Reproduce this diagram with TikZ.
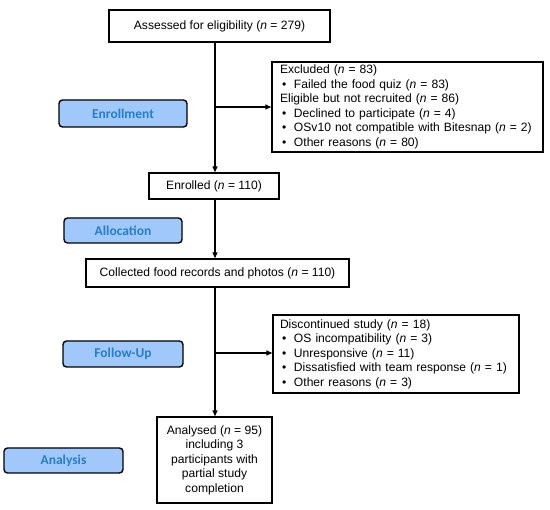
\documentclass[tikz,border=0pt]{standalone}
\usepackage{fontspec}
\setmainfont{Liberation Sans}
\newfontfamily\tabfont{Carlito}
\usetikzlibrary{arrows.meta}
\definecolor{tabfill}{RGB}{160,200,250}
\definecolor{tabtext}{RGB}{40,125,200}
\newcommand\bul{\hspace*{2pt}\makebox[12pt][l]{\textbullet}}
\begin{document}
\begin{tikzpicture}[x=1pt,y=-1pt,
  box/.style={draw,line width=1.4pt,inner sep=0pt,font=\fontsize{12.1}{14.5}\selectfont},
  tab/.style={draw,line width=1.4pt,rounded corners=3.5pt,fill=tabfill,text=tabtext,font=\tabfont\bfseries\fontsize{13.5}{15}\selectfont,inner sep=0pt},
  conn/.style={line width=1.3pt},
  arr/.style={conn,-{Triangle[length=6pt,width=5pt]}}]
\useasboundingbox (0,0) rectangle (550,510);
\node[box,minimum width=221pt,minimum height=32pt] (assess) at (219.5,26) {Assessed for eligibility (\textit{n} = 279)};
\node[box,minimum width=271pt,minimum height=90pt,text width=255pt,align=left] (excl) at (407.5,107) {Excluded (\textit{n} = 83)\\
\bul Failed the food quiz (\textit{n} = 83)\\
Eligible but not recruited (\textit{n} = 86)\\
\bul Declined to participate (\textit{n} = 4)\\
\bul OSv10 not compatible with Bitesnap (\textit{n} = 2)\\
\bul Other reasons (\textit{n} = 80)};
\node[box,minimum width=130pt,minimum height=26pt] (enrol) at (214,186) {Enrolled (\textit{n} = 110)};
\node[box,minimum width=263pt,minimum height=28pt] (coll) at (217.5,273) {Collected food records and photos (\textit{n} = 110)};
\node[box,minimum width=246pt,minimum height=78pt,text width=232pt,align=left] (disc) at (396,354) {Discontinued study (\textit{n} = 18)\\
\bul OS incompatibility (\textit{n} = 3)\\
\bul Unresponsive (\textit{n} = 11)\\
\bul Dissatisfied with team response (\textit{n} = 1)\\
\bul Other reasons (\textit{n} = 3)};
\node[box,minimum width=115pt,minimum height=86pt,align=center] (anal) at (214.5,460) {Analysed (\textit{n} = 95)\\including 3\\participants with\\partial study\\completion};
\node[tab,minimum width=128pt,minimum height=27pt] (tenrol) at (123,113.5) {Enrollment};
\node[tab,minimum width=118pt,minimum height=25pt] (talloc) at (123,230.5) {Allocation};
\node[tab,minimum width=120pt,minimum height=26pt] (tfollow) at (123,354) {Follow-Up};
\node[tab,minimum width=119pt,minimum height=25pt] (tanal) at (63.5,460.5) {Analysis};
\coordinate (b1) at (215,107);
\coordinate (b2) at (215,353);
\draw[arr] (assess.south -| b1) -- (enrol.north -| b1);
\draw[arr] (b1) -- (b1 -| excl.west);
\draw[arr] (enrol.south -| b1) -- (coll.north -| b1);
\draw[arr] (coll.south -| b2) -- (anal.north -| b2);
\draw[arr] (b2) -- (b2 -| disc.west);
\end{tikzpicture}
\end{document}
